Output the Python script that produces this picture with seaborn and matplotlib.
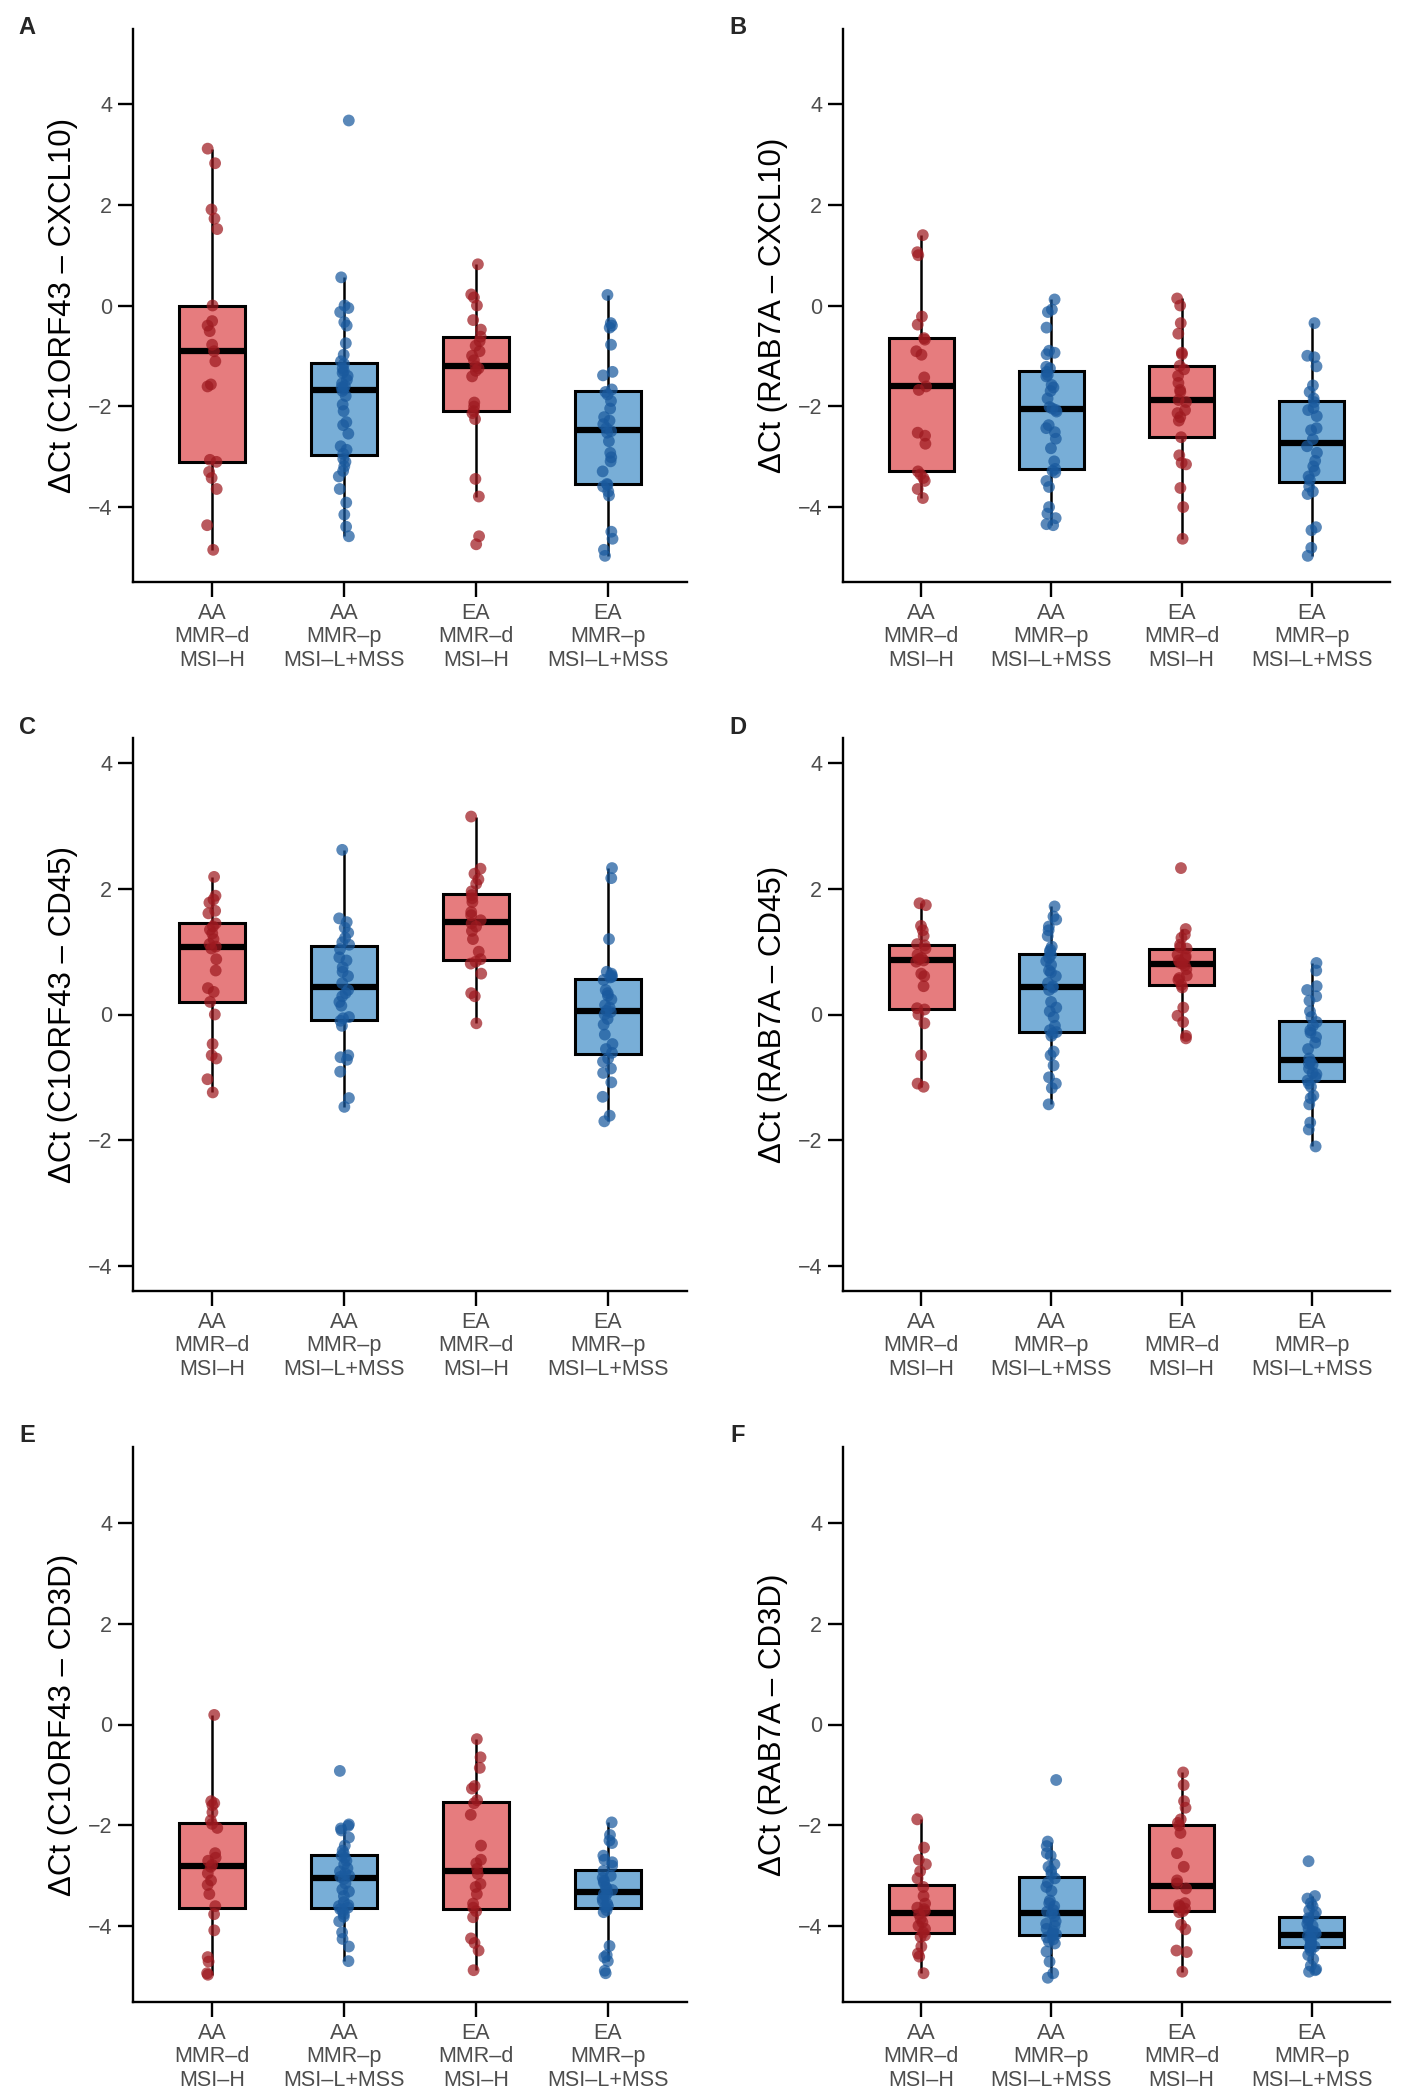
import numpy as np
import pandas as pd
import matplotlib
matplotlib.use("Agg")
import matplotlib.pyplot as plt
import seaborn as sns

# group labels (x axis)
groups = ["AA\nMMR–d\nMSI–H", "AA\nMMR–p\nMSI–L+MSS",
          "EA\nMMR–d\nMSI–H", "EA\nMMR–p\nMSI–L+MSS"]

# A: dCt (C1ORF43 - CXCL10)
A_aa_d = [3.12, 2.83, 1.91, 1.73, 1.52, 0.0, -0.31, -0.40, -0.51, -0.78, -0.91,
          -1.11, -1.57, -1.61, -3.07, -3.11, -3.31, -3.43, -3.65, -4.37, -4.86]
A_aa_p = [3.68, 0.56, 0.0, -0.05, -0.13, -0.33, -0.40, -0.75, -0.98, -1.11,
          -1.16, -1.25, -1.30, -1.34, -1.40, -1.48, -1.55, -1.60, -1.63, -1.66,
          -1.70, -1.80, -1.97, -2.10, -2.32, -2.38, -2.55, -2.80, -2.87, -2.95,
          -3.05, -3.11, -3.20, -3.29, -3.40, -3.65, -3.92, -4.16, -4.40, -4.59]
A_ea_d = [0.82, 0.22, 0.16, 0.0, -0.29, -0.48, -0.62, -0.71, -0.80, -0.91,
          -1.00, -1.09, -1.21, -1.25, -1.30, -1.41, -1.93, -2.01, -2.10, -2.14,
          -2.26, -3.45, -3.80, -4.59, -4.75]
A_ea_p = [0.21, -0.35, -0.40, -0.44, -0.78, -1.32, -1.39, -1.67, -1.72, -1.77,
          -1.90, -2.05, -2.22, -2.29, -2.36, -2.44, -2.50, -2.53, -2.70, -2.93,
          -3.02, -3.10, -3.30, -3.55, -3.57, -3.60, -3.70, -3.78, -4.50, -4.64,
          -4.86, -4.98]

# B: dCt (RAB7A - CXCL10)
B_aa_d = [1.40, 1.06, 1.00, -0.22, -0.38, -0.65, -0.68, -0.91, -0.98, -1.43,
          -1.61, -1.68, -2.53, -2.59, -2.75, -3.30, -3.36, -3.43, -3.49, -3.65, -3.83]
B_aa_p = [0.12, -0.08, -0.13, -0.44, -0.90, -0.94, -0.97, -1.22, -1.25,
          -1.32, -1.38, -1.41, -1.58, -1.63, -1.70, -1.85, -2.02, -2.05,
          -2.08, -2.11, -2.38, -2.44, -2.52, -2.65, -2.84, -3.10, -3.25,
          -3.29, -3.32, -3.49, -3.61, -4.01, -4.14, -4.23, -4.35, -4.37]
B_ea_d = [0.14, 0.0, -0.35, -0.56, -0.94, -0.97, -1.20, -1.27, -1.40, -1.54,
          -1.68, -1.72, -1.88, -1.92, -2.08, -2.14, -2.22, -2.29, -2.62, -2.98,
          -3.13, -3.16, -3.63, -4.01, -4.64]
B_ea_p = [-0.35, -1.00, -1.03, -1.21, -1.59, -1.72, -1.85,
          -1.92, -2.04, -2.08, -2.20, -2.44, -2.48, -2.66,
          -2.80, -2.93, -3.09, -3.20, -3.29, -3.40, -3.47,
          -3.60, -3.70, -3.75, -4.41, -4.47, -4.82, -4.98]

# C: dCt (C1ORF43 - CD45)
C_aa_d = [2.19, 1.89, 1.83, 1.78, 1.65, 1.61, 1.45, 1.40, 1.35, 1.29, 1.20,
          1.12, 1.08, 1.05, 0.88, 0.70, 0.42, 0.36, 0.20, 0.0, -0.47, -0.65,
          -0.70, -1.03, -1.24]
C_aa_p = [2.62, 1.53, 1.47, 1.38, 1.30, 1.22, 1.15, 1.11, 1.04, 0.91, 0.86,
          0.75, 0.68, 0.61, 0.50, 0.39, 0.34, 0.29, 0.20, 0.14, -0.04, -0.06,
          -0.10, -0.18, -0.65, -0.68, -0.72, -0.91, -1.33, -1.47]
C_ea_d = [3.15, 2.32, 2.24, 2.15, 2.08, 1.96, 1.90, 1.85, 1.79, 1.63, 1.58,
          1.50, 1.45, 1.40, 1.33, 1.20, 1.00, 0.88, 0.84, 0.81, 0.65, 0.34,
          0.29, -0.14]
C_ea_p = [2.33, 2.17, 1.20, 0.68, 0.65, 0.62, 0.60, 0.59,
          0.55, 0.39, 0.34, 0.30, 0.24, 0.15, 0.11, 0.06,
          0.04, 0.0, -0.07, -0.16, -0.32, -0.47, -0.55, -0.61,
          -0.70, -0.75, -0.86, -0.93, -1.08, -1.31, -1.61, -1.70]

# D: dCt (RAB7A - CD45)
D_aa_d = [1.77, 1.74, 1.41, 1.34, 1.25, 1.12, 1.10, 1.05, 0.95, 0.90, 0.88,
          0.86, 0.84, 0.65, 0.61, 0.45, 0.10, 0.08, 0.0, -0.14, -0.65, -1.10, -1.15]
D_aa_p = [1.72, 1.56, 1.51, 1.40, 1.34, 1.25, 1.08, 1.03, 1.00,
          0.95, 0.90, 0.85, 0.79, 0.70, 0.67, 0.61, 0.50, 0.45,
          0.43, 0.39, 0.20, 0.11, 0.05, -0.04, -0.18, -0.25, -0.28,
          -0.30, -0.34, -0.59, -0.65, -0.81, -1.00, -1.10, -1.17, -1.43]
D_ea_d = [2.33, 1.36, 1.27, 1.22, 1.11, 1.07, 1.05, 0.95, 0.93, 0.90, 0.86,
          0.82, 0.81, 0.78, 0.72, 0.62, 0.58, 0.55, 0.47, 0.43, 0.11, -0.02,
          -0.12, -0.34, -0.38]
D_ea_p = [0.82, 0.70, 0.45, 0.39, 0.29, 0.22, 0.05, -0.04,
          -0.12, -0.18, -0.25, -0.29, -0.36, -0.45, -0.55, -0.70,
          -0.75, -0.78, -0.80, -0.86, -0.93, -0.95, -1.00, -1.05,
          -1.10, -1.15, -1.29, -1.33, -1.43, -1.72, -1.83, -2.10]

# E: dCt (C1ORF43 - CD3D)
E_aa_d = [0.19, -1.52, -1.56, -1.60, -1.74, -1.90, -1.97, -2.05, -2.55, -2.64,
          -2.70, -2.78, -2.82, -2.95, -3.09, -3.18, -3.36, -3.60, -3.76, -4.08,
          -4.61, -4.70, -4.93, -4.96]
E_aa_p = [-0.92, -1.98, -2.01, -2.06, -2.10, -2.24, -2.40, -2.50, -2.55,
          -2.60, -2.64, -2.70, -2.77, -2.85, -2.91, -2.95, -3.00, -3.02,
          -3.06, -3.15, -3.27, -3.31, -3.40, -3.52, -3.58, -3.60, -3.63,
          -3.66, -3.70, -3.76, -3.81, -3.90, -4.12, -4.25, -4.40, -4.69]
E_ea_d = [-0.29, -0.65, -0.86, -1.22, -1.27, -1.50, -1.56, -1.79, -2.40, -2.68,
          -2.75, -2.86, -2.96, -3.16, -3.22, -3.36, -3.55, -3.63, -3.70, -3.82,
          -4.24, -4.33, -4.48, -4.87]
E_ea_p = [-1.94, -2.19, -2.30, -2.35, -2.60, -2.68, -2.73, -2.80,
          -2.90, -3.00, -3.04, -3.10, -3.13, -3.22, -3.25, -3.28,
          -3.34, -3.36, -3.40, -3.45, -3.50, -3.55, -3.60, -3.62,
          -3.68, -3.72, -4.39, -4.57, -4.61, -4.69, -4.88, -4.93]

# F: dCt (RAB7A - CD3D)
F_aa_d = [-1.88, -2.44, -2.68, -2.77, -2.91, -3.05, -3.22, -3.40, -3.55, -3.63,
          -3.66, -3.70, -3.76, -3.85, -3.92, -3.99, -4.05, -4.12, -4.18, -4.21,
          -4.40, -4.54, -4.60, -4.93]
F_aa_p = [-1.10, -2.32, -2.41, -2.55, -2.60, -2.77, -2.82, -2.90, -2.97,
          -3.05, -3.13, -3.22, -3.30, -3.49, -3.54, -3.60, -3.68, -3.71,
          -3.75, -3.80, -3.90, -3.95, -3.99, -4.05, -4.10, -4.14, -4.16,
          -4.18, -4.22, -4.26, -4.30, -4.34, -4.50, -4.70, -4.93, -5.02]
F_ea_d = [-0.95, -1.20, -1.52, -1.65, -1.88, -1.95, -2.00, -2.15, -2.55, -2.82,
          -3.09, -3.15, -3.25, -3.54, -3.58, -3.61, -3.65, -3.70, -3.72, -3.97,
          -4.06, -4.48, -4.51, -4.90]
F_ea_p = [-2.71, -3.40, -3.45, -3.54, -3.60, -3.68, -3.72, -3.78,
          -3.84, -3.88, -3.95, -3.99, -4.05, -4.10, -4.12, -4.15,
          -4.19, -4.22, -4.26, -4.30, -4.34, -4.37, -4.40, -4.41,
          -4.43, -4.48, -4.57, -4.65, -4.78, -4.85, -4.87, -4.90]

panels = [
    ("A", "ΔCt (C1ORF43 – CXCL10)", [A_aa_d, A_aa_p, A_ea_d, A_ea_p], 5.5),
    ("B", "ΔCt (RAB7A – CXCL10)", [B_aa_d, B_aa_p, B_ea_d, B_ea_p], 5.5),
    ("C", "ΔCt (C1ORF43 – CD45)", [C_aa_d, C_aa_p, C_ea_d, C_ea_p], 4.4),
    ("D", "ΔCt (RAB7A – CD45)", [D_aa_d, D_aa_p, D_ea_d, D_ea_p], 4.4),
    ("E", "ΔCt (C1ORF43 – CD3D)", [E_aa_d, E_aa_p, E_ea_d, E_ea_p], 5.5),
    ("F", "ΔCt (RAB7A – CD3D)", [F_aa_d, F_aa_p, F_ea_d, F_ea_p], 5.5),
]

box_fill = dict(zip(groups, ["#E67C7E", "#78AED7", "#E67C7E", "#78AED7"]))
dot_col = dict(zip(groups, ["#9E1A20", "#1A5A9E", "#9E1A20", "#1A5A9E"]))

sns.set_style("ticks")
plt.rcParams["font.family"] = ["Liberation Sans", "DejaVu Sans"]

W, H = 1407, 2100
fig = plt.figure(figsize=(W / 100, H / 100), dpi=100)

# panel frames in pixels: left, right / top, bottom
cols = [(133, 687), (843, 1390)]
rows = [(29, 582), (738, 1291), (1447, 2002)]
letter_x = [27, 738]
letter_y = [27, 728, 1436]

np.random.seed(7)

for i, (letter, ylabel, vals, lim) in enumerate(panels):
    r, c = divmod(i, 2)
    l, rr = cols[c]
    t, b = rows[r]
    ax = fig.add_axes([l / W, 1 - b / H, (rr - l) / W, (b - t) / H])

    df = pd.DataFrame({
        "group": np.repeat(groups, [len(v) for v in vals]),
        "dct": np.concatenate(vals),
    })

    sns.boxplot(data=df, x="group", y="dct", hue="group", order=groups,
                hue_order=groups, palette=box_fill, saturation=1, width=0.5,
                showfliers=False, showcaps=False, linecolor="black",
                linewidth=2.2, medianprops=dict(linewidth=4.5),
                whiskerprops=dict(linewidth=1.8), legend=False, ax=ax)
    sns.stripplot(data=df, x="group", y="dct", hue="group", order=groups,
                  hue_order=groups, palette=dot_col, jitter=0.04, size=8.5,
                  alpha=0.72, linewidth=0, legend=False, zorder=3, ax=ax)

    ax.set_xlim(-0.6, 3.6)
    ax.set_ylim(-lim, lim)
    ax.set_yticks([-4, -2, 0, 2, 4])
    ax.set_xlabel("")
    ax.set_ylabel(ylabel, fontsize=22.5, labelpad=7, color="black")
    sns.despine(ax=ax)
    for s in ("left", "bottom"):
        ax.spines[s].set_linewidth(1.7)
        ax.spines[s].set_color("black")
    ax.tick_params(length=11, width=1.7, color="black", labelsize=15.5,
                   labelcolor="#4D4D4D", pad=4)
    for lab in ax.get_xticklabels():
        lab.set_linespacing(1.15)

    fig.text(letter_x[c] / W, 1 - letter_y[r] / H, letter, fontsize=17,
             fontweight="bold", ha="center", va="center")

fig.savefig("out.png", dpi=100)
